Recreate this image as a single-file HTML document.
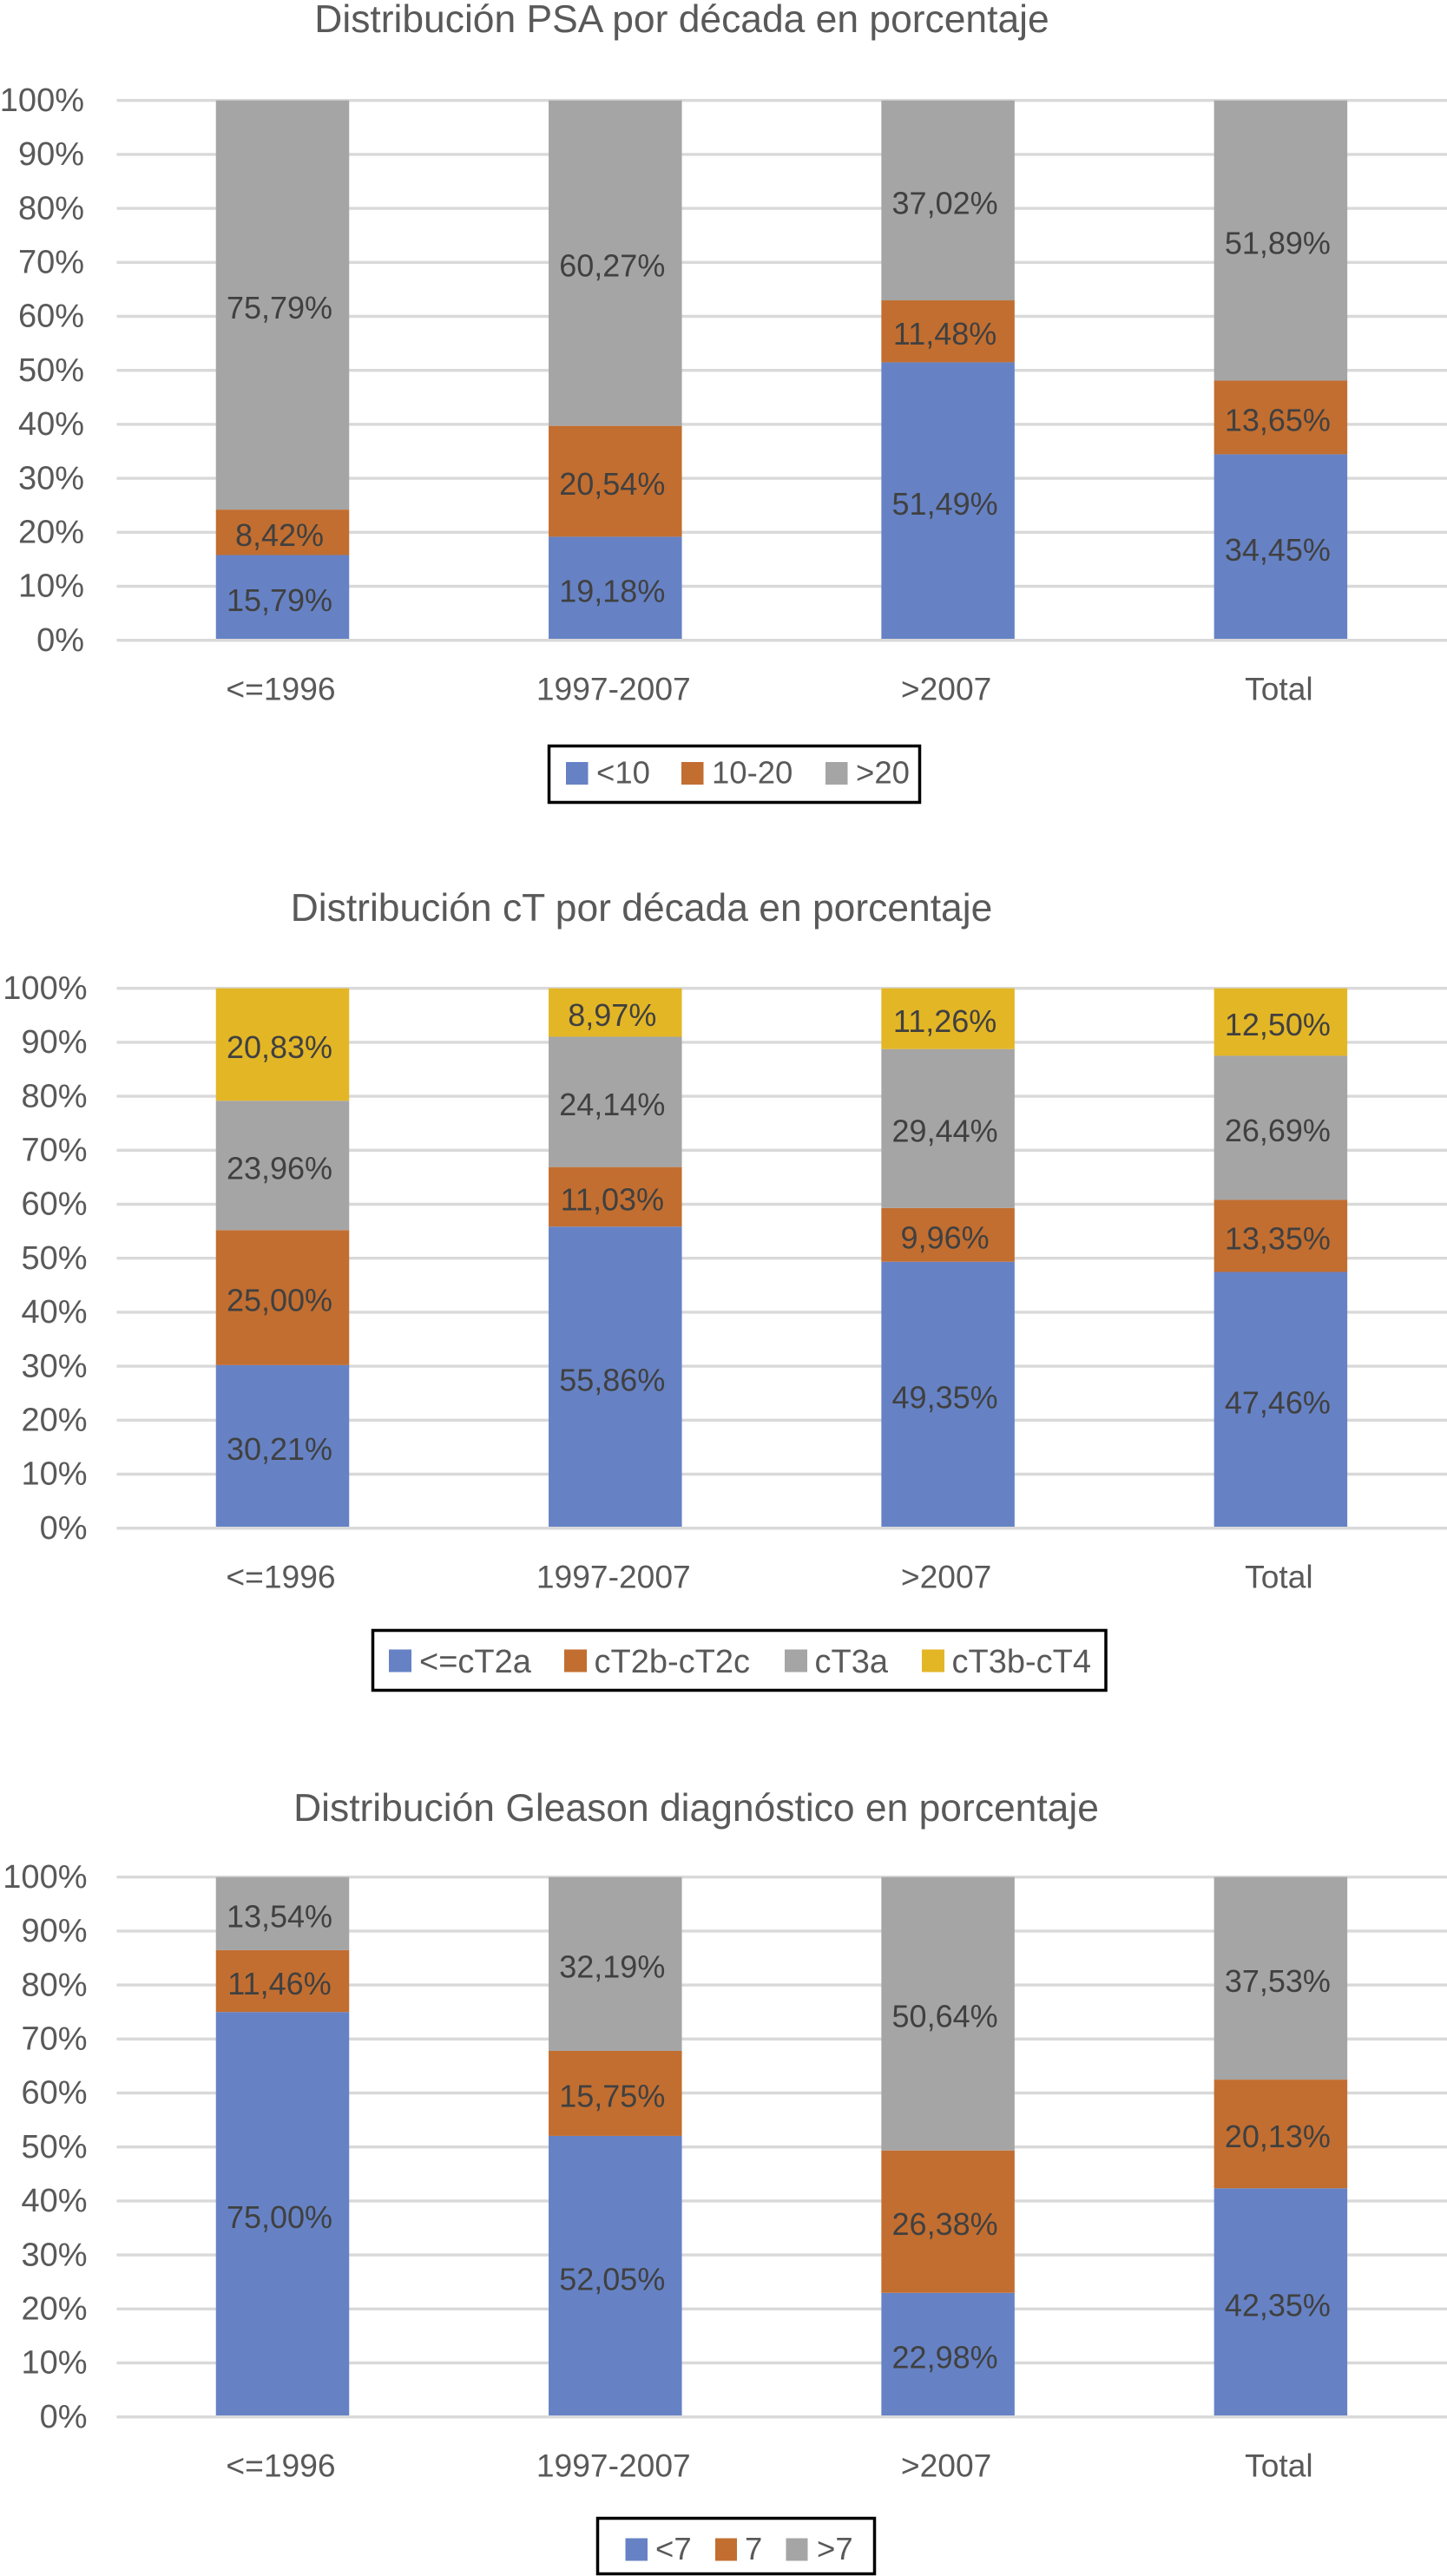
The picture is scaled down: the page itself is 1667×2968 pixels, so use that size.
<!DOCTYPE html>
<html lang="es">
<head>
<meta charset="utf-8">
<title>Distribución por década</title>
<style>
html,body{margin:0;padding:0;background:#fff;}
svg{display:block;}
text{font-family:"Liberation Sans",Arial,Helvetica,sans-serif;}
</style>
</head>
<body>
<svg id="figure" xmlns="http://www.w3.org/2000/svg" width="1667" height="2968" viewBox="0 0 1667 2968">
  <rect x="0" y="0" width="1667" height="2968" fill="#ffffff"/>

  <text x="785.5" y="37" text-anchor="middle" font-size="44.4" fill="#595959">Distribución PSA por década en porcentaje</text>
  <g id="chart-psa"></g>
  <g>
    <rect x="632.5" y="859.5" width="427" height="65" fill="#fff" stroke="#000" stroke-width="3.5"/>
    <rect x="652" y="878" width="25.5" height="26" fill="#6682c5"/>
    <text x="687" y="902.5" font-size="36.5" fill="#595959">&lt;10</text>
    <rect x="785" y="878" width="25.5" height="26" fill="#c26e30"/>
    <text x="820" y="902.5" font-size="36.5" fill="#595959">10-20</text>
    <rect x="951" y="878" width="25.5" height="26" fill="#a5a5a5"/>
    <text x="986" y="902.5" font-size="36.5" fill="#595959">&gt;20</text>
  </g>

  <text x="739" y="1061" text-anchor="middle" font-size="44.4" fill="#595959">Distribución cT por década en porcentaje</text>
  <g id="chart-ct"></g>
  <g>
    <rect x="429.5" y="1878.5" width="844.5" height="69" fill="#fff" stroke="#000" stroke-width="3.5"/>
    <rect x="448" y="1900.5" width="26" height="26" fill="#6682c5"/>
    <text x="483" y="1927" font-size="38" fill="#595959">&lt;=cT2a</text>
    <rect x="650" y="1900.5" width="26" height="26" fill="#c26e30"/>
    <text x="684.5" y="1927" font-size="38" fill="#595959">cT2b-cT2c</text>
    <rect x="904" y="1900.5" width="26" height="26" fill="#a5a5a5"/>
    <text x="938.5" y="1927" font-size="38" fill="#595959">cT3a</text>
    <rect x="1062" y="1900.5" width="26" height="26" fill="#e3b626"/>
    <text x="1096.5" y="1927" font-size="38" fill="#595959">cT3b-cT4</text>
  </g>

  <text x="802" y="2098" text-anchor="middle" font-size="44.4" fill="#595959">Distribución Gleason diagnóstico en porcentaje</text>
  <g id="chart-gleason"></g>
  <g>
    <rect x="688.5" y="2901.5" width="319" height="64" fill="#fff" stroke="#000" stroke-width="3.5"/>
    <rect x="720.5" y="2924.5" width="25.5" height="26" fill="#6682c5"/>
    <text x="755" y="2949" font-size="36.5" fill="#595959">&lt;7</text>
    <rect x="824" y="2924.5" width="25" height="26" fill="#c26e30"/>
    <text x="858" y="2949" font-size="36.5" fill="#595959">7</text>
    <rect x="905.5" y="2924.5" width="25" height="26" fill="#a5a5a5"/>
    <text x="941" y="2949" font-size="36.5" fill="#595959">&gt;7</text>
  </g>
</svg>

<script>
// Shared axis data
const categories = ['<=1996', '1997-2007', '>2007', 'Total'];
const tickValues = [0, 10, 20, 30, 40, 50, 60, 70, 80, 90, 100];

// PSA chart values (percent)
const psaUnder10 = [15.79, 19.18, 51.49, 34.45];
const psa10to20 = [8.42, 20.54, 11.48, 13.65];
const psaOver20 = [75.79, 60.27, 37.02, 51.89];

// cT chart values (percent)
const ctUpTo2a = [30.21, 55.86, 49.35, 47.46];
const ct2bTo2c = [25.00, 11.03, 9.96, 13.35];
const ct3a = [23.96, 24.14, 29.44, 26.69];
const ct3bTo4 = [20.83, 8.97, 11.26, 12.50];

// Gleason chart values (percent)
const gleasonUnder7 = [75.00, 52.05, 22.98, 42.35];
const gleason7 = [11.46, 15.75, 26.38, 20.13];
const gleasonOver7 = [13.54, 32.19, 50.64, 37.53];

const BLUE = '#6682c5', ORANGE = '#c26e30', GRAY = '#a5a5a5', YELLOW = '#e3b626';
const SVG_NS = 'http://www.w3.org/2000/svg';

function pct(v) {
  return v.toFixed(2).replace('.', ',') + '%';
}

function drawChart(groupId, prefix, zeroY, tickRight, seriesList) {
  const group = document.getElementById(groupId);
  const yScale = v => zeroY - v * 6.22;
  const xCenter = i => 325.5 + i * 383.3;
  const barWidth = 153.5;

  tickValues.forEach(t => {
    const line = document.createElementNS(SVG_NS, 'line');
    
    
    line.setAttribute('x1', 134.5);
    line.setAttribute('x2', 1667);
    line.setAttribute('y1', yScale(t));
    line.setAttribute('y2', yScale(t));
    line.setAttribute('stroke', '#d9d9d9');
    line.setAttribute('stroke-width', 3.4);
    group.appendChild(line);

    const label = document.createElementNS(SVG_NS, 'text');
    
    
    label.setAttribute('x', tickRight);
    label.setAttribute('y', yScale(t) + 12.2);
    label.setAttribute('text-anchor', 'end');
    label.setAttribute('font-size', 38);
    label.setAttribute('fill', '#595959');
    label.textContent = t + '%';
    group.appendChild(label);
  });

  categories.forEach((cat, i) => {
    let base = 0;
    seriesList.forEach(s => {
      const v = s.values[i];
      const top = yScale(base + v);
      const bottom = yScale(base);

      const bar = document.createElementNS(SVG_NS, 'rect');
      
      
      bar.setAttribute('x', xCenter(i) - barWidth / 2);
      bar.setAttribute('y', top);
      bar.setAttribute('width', barWidth);
      bar.setAttribute('height', bottom - top);
      bar.setAttribute('fill', s.color);
      group.appendChild(bar);

      base += v;
    });

    const axisLabel = document.createElementNS(SVG_NS, 'text');
    
    
    axisLabel.setAttribute('x', xCenter(i) - 2);
    axisLabel.setAttribute('y', zeroY + 69);
    axisLabel.setAttribute('text-anchor', 'middle');
    axisLabel.setAttribute('font-size', 37.2);
    axisLabel.setAttribute('fill', '#595959');
    axisLabel.textContent = cat;
    group.appendChild(axisLabel);
  });

  const baseline = document.createElementNS(SVG_NS, 'line');
  
  
  baseline.setAttribute('x1', 134.5);
  baseline.setAttribute('x2', 1667);
  baseline.setAttribute('y1', yScale(0));
  baseline.setAttribute('y2', yScale(0));
  baseline.setAttribute('stroke', '#d9d9d9');
  baseline.setAttribute('stroke-width', 3.4);
  group.appendChild(baseline);

  categories.forEach((cat, i) => {
    let base = 0;
    seriesList.forEach(s => {
      const v = s.values[i];
      const value = document.createElementNS(SVG_NS, 'text');
      
      
      value.setAttribute('x', xCenter(i) - 3.5);
      value.setAttribute('y', yScale(base + v / 2) + 15.5);
      value.setAttribute('text-anchor', 'middle');
      value.setAttribute('font-size', 36);
      value.setAttribute('fill', '#404040');
      value.textContent = pct(v);
      group.appendChild(value);
      base += v;
    });
  });
}

drawChart('chart-psa', 'psa', 737.7, 97, [
  { key: 'under-10', values: psaUnder10, color: BLUE },
  { key: '10-20', values: psa10to20, color: ORANGE },
  { key: 'over-20', values: psaOver20, color: GRAY }
]);
drawChart('chart-ct', 'ct', 1760.7, 100.5, [
  { key: 'ct2a', values: ctUpTo2a, color: BLUE },
  { key: 'ct2b-ct2c', values: ct2bTo2c, color: ORANGE },
  { key: 'ct3a', values: ct3a, color: GRAY },
  { key: 'ct3b-ct4', values: ct3bTo4, color: YELLOW }
]);
drawChart('chart-gleason', 'gleason', 2784.7, 100.5, [
  { key: 'under-7', values: gleasonUnder7, color: BLUE },
  { key: '7', values: gleason7, color: ORANGE },
  { key: 'over-7', values: gleasonOver7, color: GRAY }
]);
</script>
</body>
</html>
